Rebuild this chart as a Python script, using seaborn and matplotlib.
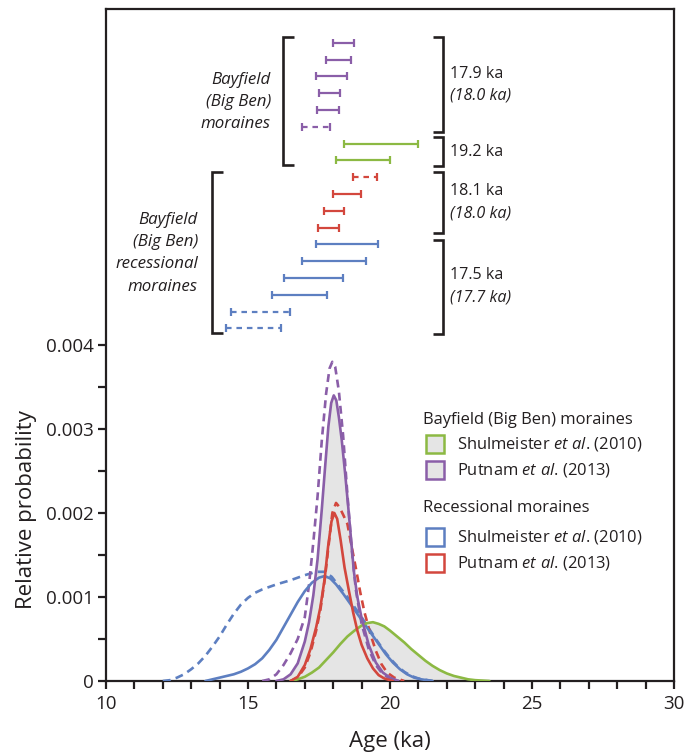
import numpy as np
import pandas as pd
import matplotlib
matplotlib.use("Agg")
import matplotlib.pyplot as plt
import seaborn as sns
from matplotlib.patches import Rectangle

# ---------------- individual ages (ka) with 1-sigma bars ----------------
putnam_bay_age = [18.37, 18.18, 17.93, 17.87, 17.82, 17.39]
putnam_bay_err = [0.36, 0.43, 0.54, 0.36, 0.38, 0.50]
putnam_bay_outlier = [False, False, False, False, False, True]

shul_bay_age = [19.68, 19.05]
shul_bay_err = [1.30, 0.95]
shul_bay_outlier = [False, False]

putnam_rec_age = [19.12, 18.49, 18.03, 17.84]
putnam_rec_err = [0.41, 0.48, 0.35, 0.36]
putnam_rec_outlier = [True, False, False, False]

shul_rec_age = [18.48, 18.03, 17.32, 16.80, 15.44, 15.20]
shul_rec_err = [1.10, 1.12, 1.04, 0.97, 1.04, 0.96]
shul_rec_outlier = [False, False, False, False, True, True]

# ---------------- probability curves ----------------
purple_solid_x = [16.0, 16.25, 16.5, 16.75, 17.0, 17.15, 17.3, 17.45, 17.6, 17.72, 17.83,
                  17.93, 18.02, 18.11, 18.2, 18.3, 18.42, 18.53, 18.63, 18.73, 18.85, 19.0,
                  19.25, 19.5, 19.75, 20.0, 20.3]
purple_solid_y = [0.0, 0.00002, 0.00008, 0.00021, 0.00047, 0.00070, 0.00102, 0.00145, 0.00205,
                  0.00257, 0.00303, 0.00331, 0.00340, 0.00334, 0.00314, 0.00287, 0.00247,
                  0.00207, 0.00168, 0.00130, 0.00100, 0.00075, 0.00043, 0.00022, 0.00010,
                  0.00004, 0.0]

purple_dash_x = [15.5, 15.75, 16.0, 16.25, 16.5, 16.75, 17.0, 17.15, 17.3, 17.45, 17.6, 17.75,
                 17.87, 17.97, 18.07, 18.2, 18.35, 18.5, 18.65, 18.8, 19.0, 19.25, 19.5,
                 19.75, 20.0, 20.3]
purple_dash_y = [0.0, 0.00002, 0.00008, 0.00019, 0.00033, 0.00050, 0.00076, 0.00115, 0.00165,
                 0.00220, 0.00287, 0.00342, 0.00372, 0.00380, 0.00374, 0.00345, 0.00292,
                 0.00222, 0.00158, 0.00108, 0.00068, 0.00038, 0.00019, 0.00008, 0.00003, 0.0]

red_solid_x = [16.5, 16.75, 17.0, 17.2, 17.4, 17.55, 17.7, 17.82, 17.94, 18.04, 18.14, 18.26,
               18.4, 18.55, 18.7, 18.85, 19.0, 19.2, 19.4, 19.6, 19.8, 20.1]
red_solid_y = [0.0, 0.00005, 0.00019, 0.00038, 0.00064, 0.00088, 0.00122, 0.00160, 0.00190,
               0.00200, 0.00193, 0.00168, 0.00135, 0.00108, 0.00082, 0.00060, 0.00043,
               0.00027, 0.00015, 0.00007, 0.00003, 0.0]

red_dash_x = [16.5, 16.75, 17.0, 17.2, 17.4, 17.55, 17.7, 17.85, 17.97, 18.1, 18.22, 18.35,
              18.5, 18.65, 18.8, 18.95, 19.1, 19.3, 19.5, 19.7, 19.9, 20.15, 20.5]
red_dash_y = [0.0, 0.00004, 0.00016, 0.00034, 0.00060, 0.00085, 0.00120, 0.00165, 0.00200,
              0.00212, 0.00207, 0.00198, 0.00187, 0.00160, 0.00134, 0.00106, 0.00082,
              0.00057, 0.00036, 0.00020, 0.00010, 0.00004, 0.0]

blue_solid_x = [13.5, 13.75, 14.0, 14.25, 14.5, 14.75, 15.0, 15.25, 15.5, 15.75, 16.0, 16.25,
                16.5, 16.75, 17.0, 17.25, 17.5, 17.7, 17.9, 18.1, 18.35, 18.6, 18.85, 19.1,
                19.35, 19.6, 19.85, 20.1, 20.35, 20.6, 20.85, 21.1, 21.5]
blue_solid_y = [0.0, 0.00002, 0.00004, 0.00006, 0.00008, 0.00011, 0.00015, 0.00020, 0.00027,
                0.00037, 0.00049, 0.00064, 0.00079, 0.00094, 0.00107, 0.00117, 0.00123,
                0.00125, 0.00122, 0.00115, 0.00104, 0.00092, 0.00080, 0.00068, 0.00056,
                0.00044, 0.00032, 0.00022, 0.00014, 0.00008, 0.00004, 0.00002, 0.0]

blue_dash_x = [12.0, 12.25, 12.5, 12.75, 13.0, 13.25, 13.5, 13.75, 14.0, 14.25, 14.5, 14.75,
               15.0, 15.25, 15.5, 15.75, 16.0, 16.5, 17.0, 17.4, 17.7, 17.95, 18.2, 18.5,
               18.75, 19.0, 19.25, 19.5, 19.75, 20.0, 20.25, 20.5, 20.75, 21.0, 21.5]
blue_dash_y = [0.0, 0.00001, 0.00004, 0.00008, 0.00014, 0.00021, 0.00030, 0.00041, 0.00053,
               0.00067, 0.00080, 0.00091, 0.00099, 0.00105, 0.00109, 0.00112, 0.00115,
               0.00120, 0.00126, 0.00130, 0.00130, 0.00124, 0.00113, 0.00100, 0.00088,
               0.00076, 0.00063, 0.00050, 0.00038, 0.00027, 0.00018, 0.00011, 0.00006,
               0.00003, 0.0]

green_x = [16.5, 16.75, 17.0, 17.25, 17.5, 17.75, 18.0, 18.25, 18.5, 18.75, 19.0, 19.2, 19.4,
           19.6, 19.8, 20.0, 20.25, 20.5, 20.75, 21.0, 21.25, 21.5, 21.75, 22.0, 22.25, 22.5,
           22.75, 23.0, 23.5]
green_y = [0.0, 0.00002, 0.00005, 0.00010, 0.00016, 0.00025, 0.00034, 0.00044, 0.00053,
           0.00060, 0.00066, 0.00069, 0.00070, 0.00068, 0.00065, 0.00060, 0.00053, 0.00046,
           0.00038, 0.00031, 0.00024, 0.00018, 0.00013, 0.00009, 0.00006, 0.00004, 0.00002,
           0.00001, 0.0]

bracket_labels = ["17.9 ka", "19.2 ka", "18.1 ka", "17.5 ka"]
bracket_alt = ["(18.0 ka)", None, "(18.0 ka)", "(17.7 ka)"]
x_ticks = [10, 15, 20, 25, 30]
y_ticks = [0, 0.001, 0.002, 0.003, 0.004]
y_tick_labels = ["0", "0.001", "0.002", "0.003", "0.004"]

# ---------------- style ----------------
sns.set_style("ticks")
FONT = "Open Sans"
plt.rcParams["font.family"] = [FONT, "DejaVu Sans"]
plt.rcParams["mathtext.fontset"] = "custom"
plt.rcParams["mathtext.rm"] = FONT
plt.rcParams["mathtext.it"] = FONT + ":italic"

GREEN = "#8cb943"
PURPLE = "#8a5ea8"
RED = "#d3473d"
BLUE = "#5d7fc1"
GREY = "#e5e5e5"
INK = "#231f20"

fig = plt.figure(figsize=(6.86, 7.55), dpi=100)
ax = fig.add_axes([106 / 686, 74 / 755, 568 / 686, 672.5 / 755])
ax.set_xlim(10, 30)
ax.set_ylim(0, 672.5 / 84000)


def ypx(px):
    return (681 - px) / 84000.0


def xpx(px):
    return 10 + (px - 106) / 28.4


# ---------------- curves ----------------
ax.fill_between(green_x, green_y, color=GREY, lw=0, zorder=1)
ax.fill_between(purple_solid_x, purple_solid_y, color=GREY, lw=0, zorder=1)

DASH = (0, (3, 2))
for xv, yv, col, ls in [
    (blue_dash_x, blue_dash_y, BLUE, DASH),
    (purple_dash_x, purple_dash_y, PURPLE, DASH),
    (red_dash_x, red_dash_y, RED, DASH),
    (blue_solid_x, blue_solid_y, BLUE, "-"),
    (green_x, green_y, GREEN, "-"),
    (purple_solid_x, purple_solid_y, PURPLE, "-"),
    (red_solid_x, red_solid_y, RED, "-"),
]:
    d = pd.DataFrame({"age": xv, "p": yv})
    sns.lineplot(data=d, x="age", y="p", ax=ax, color=col, lw=1.9, linestyle=ls,
                 zorder=3, sort=False)

# ---------------- age error bars ----------------
groups = [(putnam_bay_age, putnam_bay_err, putnam_bay_outlier, PURPLE),
          (shul_bay_age, shul_bay_err, shul_bay_outlier, GREEN),
          (putnam_rec_age, putnam_rec_err, putnam_rec_outlier, RED),
          (shul_rec_age, shul_rec_err, shul_rec_outlier, BLUE)]
row = 0
for ages, errs, outs, col in groups:
    for a, e, o in zip(ages, errs, outs):
        y = ypx(42.7 + 16.8 * row)
        cont = ax.errorbar(a, y, xerr=e, fmt="none", ecolor=col, elinewidth=1.6,
                           capsize=3.2, capthick=1.6, zorder=3)
        if o:
            cont.lines[2][0].set_linestyle((0, (2.5, 2.2)))
        row += 1

# ---------------- brackets ----------------
blw = 1.9


def bracket(xv, xs_, y0, y1):
    ax.plot([xpx(xs_), xpx(xv), xpx(xv), xpx(xs_)], [ypx(y0), ypx(y0), ypx(y1), ypx(y1)],
            color=INK, lw=blw, solid_joinstyle="miter", solid_capstyle="butt")


bracket(283, 294, 37, 165)
bracket(211.7, 222.5, 172, 333)
for y0, y1 in [(37, 132), (137, 166), (172, 232.5), (239.5, 334)]:
    bracket(443, 432.5, y0, y1)

fs_ann = 11.6
txt_y = [(73.5, 96), (152, None), (191, 213.5), (275, 297.5)]
for (ya, yb), lab, alt in zip(txt_y, bracket_labels, bracket_alt):
    ax.text(xpx(450), ypx(ya), lab, fontsize=fs_ann, ha="left", va="center", color=INK)
    if alt is not None:
        ax.text(xpx(450), ypx(yb), alt, fontsize=fs_ann, ha="left", va="center",
                color=INK, style="italic")

fs_it = 12.2
for t, yy in zip(["Bayfield", "(Big Ben)", "moraines"], [79.5, 102, 124.5]):
    ax.text(xpx(271), ypx(yy), t, fontsize=fs_it, ha="right", va="center",
            style="italic", color=INK)
for t, yy in zip(["Bayfield", "(Big Ben)", "recessional", "moraines"],
                 [220.5, 242.5, 264.5, 286.5]):
    ax.text(xpx(198), ypx(yy), t, fontsize=fs_it, ha="right", va="center",
            style="italic", color=INK)

# ---------------- legend (manual) ----------------
fs_leg = 11.9
legend_rows = [
    ("Bayfield (Big Ben) moraines", None, None, 420),
    (r"Shulmeister $\mathit{et\ al}$. (2010)", GREEN, GREY, 444),
    (r"Putnam $\mathit{et\ al}$. (2013)", PURPLE, GREY, 470),
    ("Recessional moraines", None, None, 508),
    (r"Shulmeister $\mathit{et\ al}$. (2010)", BLUE, "white", 537),
    (r"Putnam $\mathit{et\ al}$. (2013)", RED, "white", 563),
]
for lab, ec, fc, yy in legend_rows:
    if ec is None:
        ax.text(xpx(423), ypx(yy), lab, fontsize=fs_leg, ha="left", va="center", color=INK)
    else:
        ax.add_patch(Rectangle((xpx(425.5), ypx(yy + 9)), xpx(443.5) - xpx(425.5),
                               ypx(yy - 9) - ypx(yy + 9), facecolor=fc,
                               edgecolor=ec, lw=1.8, zorder=4))
        ax.text(xpx(457), ypx(yy), lab, fontsize=fs_leg, ha="left", va="center", color=INK)

# ---------------- axes styling ----------------
for s in ax.spines.values():
    s.set_linewidth(1.6)
    s.set_color(INK)
ax.set_xticks(x_ticks)
ax.set_xticks(np.arange(10, 31, 1), minor=True)
ax.set_yticks(y_ticks)
ax.set_yticklabels(y_tick_labels)
ax.set_yticks(np.arange(0.0005, 0.0040, 0.001), minor=True)
ax.tick_params(axis="both", which="both", direction="out", width=1.6, color=INK,
               labelcolor=INK, labelsize=13.5)
ax.tick_params(axis="x", which="both", length=6, pad=4)
ax.tick_params(axis="y", which="both", length=5.5, pad=3)
ax.set_xlabel("Age (ka)", fontsize=16, color=INK)
ax.set_ylabel("Relative probability", fontsize=16, color=INK)
ax.xaxis.set_label_coords(0.5, (681 - 731) / 672.5)
ax.yaxis.set_label_coords((37 - 106) / 568, (681 - 510) / 672.5)
ax.grid(False)

fig.savefig("out.png", dpi=100)
